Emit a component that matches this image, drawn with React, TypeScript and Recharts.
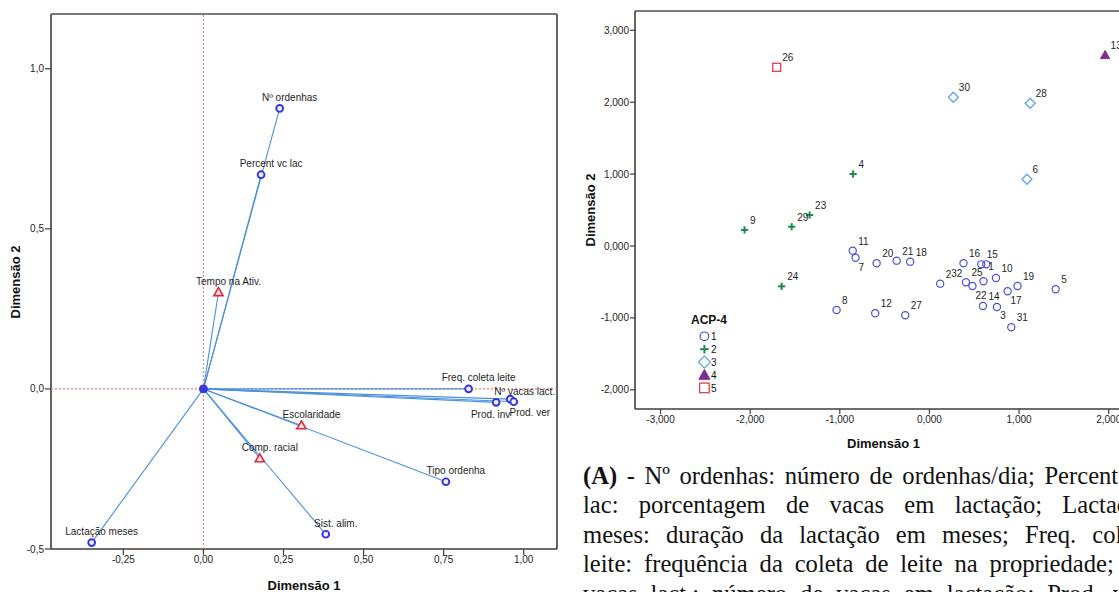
import React from 'react';
import { ScatterChart, Scatter, XAxis, YAxis, ReferenceLine, Legend } from 'recharts';

// ---------- Panel 1: component loadings ----------
const loadingNames = [
  'Nº ordenhas', 'Percent vc lac', 'Tempo na Ativ.', 'Freq. coleta leite', 'Nº vacas lact.',
  'Prod. ver', 'Prod. inv', 'Escolaridade', 'Comp. racial', 'Tipo ordenha', 'Sist. alim.', 'Lactação meses',
];
const loadingDim1 = [0.238, 0.18, 0.047, 0.828, 0.958, 0.969, 0.914, 0.306, 0.176, 0.757, 0.382, -0.349];
const loadingDim2 = [0.876, 0.669, 0.302, 0.0, -0.032, -0.04, -0.042, -0.114, -0.217, -0.29, -0.454, -0.48];
const loadingKind = ['num', 'num', 'ord', 'num', 'num', 'num', 'num', 'ord', 'ord', 'num', 'num', 'num'];
const leftXTicks = [-0.25, 0, 0.25, 0.5, 0.75, 1.0];
const leftYTicks = [-0.5, 0, 0.5, 1.0];
const leftXDomain: [number, number] = [-0.476, 1.104];
const leftYDomain: [number, number] = [-0.5, 1.171];

// label placement (centre dx, baseline dy) – default [10, -7.5]
const loadingLabelNudge: Record<string, [number, number]> = {
  'Nº vacas lact.': [14.5, -4.5],
  'Prod. ver': [16, 14.3],
  'Prod. inv': [-5.5, 15.3],
};

// ---------- Panel 2: object scores ----------
const caseIds = [1, 2, 3, 4, 5, 6, 7, 8, 9, 10, 11, 12, 13, 14, 15, 16, 17, 18, 19, 20, 21, 22, 23, 24, 25, 26, 27, 28, 29, 30, 31, 32];
const caseDim1 = [0.634, 0.12, 0.753, -0.852, 1.408, 1.088, -0.824, -1.036, -2.063, 0.742, -0.856, -0.605, 1.96, 0.597, 0.578, 0.38,
  0.872, -0.215, 0.983, -0.589, -0.366, 0.48, -1.337, -1.649, 0.407, -1.704, -0.27, 1.124, -1.537, 0.267, 0.913, 0.603];
const caseDim2 = [-0.255, -0.524, -0.848, 1.001, -0.602, 0.928, -0.163, -0.89, 0.223, -0.445, -0.065, -0.936, 2.656, -0.834, -0.255, -0.241,
  -0.63, -0.218, -0.556, -0.241, -0.204, -0.556, 0.431, -0.561, -0.505, 2.485, -0.964, 1.985, 0.268, 2.068, -1.131, -0.491];
const caseCluster = [1, 1, 1, 2, 1, 3, 1, 1, 2, 1, 1, 1, 4, 1, 1, 1, 1, 1, 1, 1, 1, 1, 2, 2, 1, 5, 1, 3, 2, 3, 1, 1];
const clusterNames = ['1', '2', '3', '4', '5'];
const rightXTicks = [-3, -2, -1, 0, 1, 2];
const rightYTicks = [-2, -1, 0, 1, 2, 3];
const rightXDomain: [number, number] = [-3.285, 2.26];
const rightYDomain: [number, number] = [-2.267, 3.268];

// label placement (start dx, baseline dy) – default [5.5, -6]
const caseLabelNudge: Record<number, [number, number]> = {
  1: [1.9, 6],
  3: [3.2, 12.3],
  7: [2.9, 13.2],
  17: [2.8, 13],
  22: [3.1, 13.3],
  32: [-32.2, -4.4],
};

const captionLead = '(A)';
const captionLines = [
  ' - Nº ordenhas: número de ordenhas/dia; Percent vc',
  'lac: porcentagem de vacas em lactação; Lactação',
  'meses: duração da lactação em meses; Freq. coleta',
  'leite: frequência da coleta de leite na propriedade; Nº',
  'vacas lact.: número de vacas em lactação; Prod. ver:',
];

const FONT = '"Liberation Sans", Arial, sans-serif';
const AXIS = '#3c3c3c';
const FRAME = '#7a7a7a';
const VEC = '#4a90dc';
const ZERO = '#f27a7a';

const loadingData = loadingNames.map((name, i) => ({ name, x: loadingDim1[i], y: loadingDim2[i], kind: loadingKind[i] }));
const caseData = caseIds.map((id, i) => ({ id, x: caseDim1[i], y: caseDim2[i], cluster: caseCluster[i] }));

const fmt = (d: number) => (v: number) => v.toFixed(d).replace('.', ',');

const LoadingShape = (props: any) => {
  const { cx, cy, payload } = props;
  if (cx == null || cy == null) return <g />;
  const [dx, dy] = loadingLabelNudge[payload.name] ?? [10, -7.5];
  return (
    <g>
      {payload.kind === 'ord' ? (
        <polygon
          points={`${cx},${cy - 4.6} ${cx - 4.6},${cy + 3.4} ${cx + 4.6},${cy + 3.4}`}
          fill="#fbe3e6"
          stroke="#e0283c"
          strokeWidth={1.6}
        />
      ) : (
        <circle cx={cx} cy={cy} r={3.4} fill="#eef0ff" stroke="#3434e4" strokeWidth={1.9} />
      )}
      <text x={cx + dx} y={cy + dy} textAnchor="middle" fontSize={10} fontFamily={FONT} fill="#1e1e1e">
        {payload.name}
      </text>
    </g>
  );
};

const ClusterIcon = ({ cluster, cx, cy, s = 1 }: { cluster: number; cx: number; cy: number; s?: number }) => {
  if (cluster === 1) return <circle cx={cx} cy={cy} r={3.6 * s} fill="none" stroke="#4c4ce0" strokeWidth={1.2} />;
  if (cluster === 2)
    return (
      <g stroke="#1d8a4d" strokeWidth={2}>
        <line x1={cx - 3.6 * s} y1={cy} x2={cx + 3.6 * s} y2={cy} />
        <line x1={cx} y1={cy - 3.6 * s} x2={cx} y2={cy + 3.6 * s} />
      </g>
    );
  if (cluster === 3)
    return (
      <polygon
        points={`${cx},${cy - 5 * s} ${cx + 5 * s},${cy} ${cx},${cy + 5 * s} ${cx - 5 * s},${cy}`}
        fill="none"
        stroke="#5aa6ea"
        strokeWidth={1.3}
      />
    );
  if (cluster === 4)
    return (
      <polygon
        points={`${cx},${cy - 4.6 * s} ${cx + 4.6 * s},${cy + 3.6 * s} ${cx - 4.6 * s},${cy + 3.6 * s}`}
        fill="#7e2d8f"
        stroke="#7e2d8f"
        strokeWidth={1}
      />
    );
  return <rect x={cx - 4 * s} y={cy - 4 * s} width={8 * s} height={8 * s} fill="none" stroke="#e0404f" strokeWidth={1.3} />;
};

const CaseShape = (props: any) => {
  const { cx, cy, payload } = props;
  if (cx == null || cy == null) return <g />;
  const [dx, dy] = caseLabelNudge[payload.id] ?? [5.5, -6];
  return (
    <g>
      <ClusterIcon cluster={payload.cluster} cx={cx} cy={cy} />
      <text x={cx + dx} y={cy + dy} fontSize={10} fontFamily={FONT} fill="#1e1e1e">
        {payload.id}
      </text>
    </g>
  );
};

const ClusterLegend = () => (
  <svg width={56} height={92} style={{ overflow: 'visible' }}>
    <text x={6} y={18.5} fontSize={12} fontWeight="bold" fontFamily={FONT} fill="#111">
      ACP-4
    </text>
    {clusterNames.map((n, i) => (
      <g key={n}>
        <ClusterIcon cluster={i + 1} cx={19.4} cy={31.3 + 12.9 * i} s={1.2} />
        <text x={26} y={35 + 12.9 * i} fontSize={10} fontFamily={FONT} fill="#111">
          {n}
        </text>
      </g>
    ))}
  </svg>
);

const titleStyle = (cx: number, cy: number, rotate = false): React.CSSProperties => ({
  position: 'absolute',
  left: cx,
  top: cy,
  transform: `translate(-50%, -50%)${rotate ? ' rotate(-90deg)' : ''}`,
  whiteSpace: 'nowrap',
  fontFamily: FONT,
  fontWeight: 'bold',
  fontSize: 13,
  lineHeight: 1,
  color: '#111',
});

const tickStyle = { fontSize: 10, fill: '#222', fontFamily: FONT };
const noShape = () => <g />;

export default function App() {
  return (
    <div style={{ position: 'fixed', left: 0, top: 0, width: 1119, height: 592, overflow: 'hidden', background: '#fff' }}>
      {/* Left panel */}
      <div style={{ position: 'absolute', left: 0, top: 0 }}>
        <ScatterChart width={570} height={592} margin={{ top: 14, right: 13, left: 0, bottom: 3 }}>
          <XAxis
            type="number"
            dataKey="x"
            domain={leftXDomain}
            ticks={leftXTicks}
            allowDataOverflow
            tickFormatter={fmt(2)}
            height={40}
            axisLine={{ stroke: AXIS, strokeWidth: 1.6 }}
            tickLine={{ stroke: AXIS, strokeWidth: 1.2 }}
            tickSize={6}
            tickMargin={1}
            tick={tickStyle}
          />
          <YAxis
            type="number"
            dataKey="y"
            domain={leftYDomain}
            ticks={leftYTicks}
            allowDataOverflow
            tickFormatter={fmt(1)}
            width={51}
            axisLine={{ stroke: AXIS, strokeWidth: 1.6 }}
            tickLine={{ stroke: AXIS, strokeWidth: 1.2 }}
            tickSize={6}
            tickMargin={1}
            tick={tickStyle}
          />
          <ReferenceLine y={leftYDomain[1]} stroke={FRAME} strokeWidth={2} />
          <ReferenceLine x={leftXDomain[1]} stroke={AXIS} strokeWidth={1.6} />
          {/* zero lines */}
          <Scatter
            data={[{ x: 0, y: leftYDomain[0] }, { x: 0, y: leftYDomain[1] }]}
            line={{ stroke: ZERO, strokeWidth: 1.1, strokeDasharray: '2 2' }}
            shape={noShape}
            isAnimationActive={false}
          />
          <Scatter
            data={[{ x: leftXDomain[0], y: 0 }, { x: leftXDomain[1], y: 0 }]}
            line={{ stroke: ZERO, strokeWidth: 1.1, strokeDasharray: '2 2' }}
            shape={noShape}
            isAnimationActive={false}
          />
          {loadingData.map((d) => (
            <Scatter
              key={`v-${d.name}`}
              data={[{ x: 0, y: 0 }, { x: d.x, y: d.y }]}
              line={{ stroke: VEC, strokeWidth: 1.1 }}
              shape={noShape}
              isAnimationActive={false}
            />
          ))}
          <Scatter
            data={[{ x: 0, y: 0 }]}
            shape={(p: any) => <circle cx={p.cx} cy={p.cy} r={4} fill="#3a3ad6" stroke="#3434e4" strokeWidth={1} />}
            isAnimationActive={false}
          />
          <Scatter data={loadingData} shape={LoadingShape} isAnimationActive={false} />
        </ScatterChart>
      </div>

      {/* Right panel */}
      <div style={{ position: 'absolute', left: 570, top: 0 }}>
        <ScatterChart width={572} height={460} margin={{ top: 11, right: 10, left: 0, bottom: 11 }}>
          <XAxis
            type="number"
            dataKey="x"
            domain={rightXDomain}
            ticks={rightXTicks}
            allowDataOverflow
            tickFormatter={fmt(3)}
            height={40}
            axisLine={{ stroke: AXIS, strokeWidth: 1.6 }}
            tickLine={{ stroke: AXIS, strokeWidth: 1.2 }}
            tickSize={5}
            tickMargin={2}
            tick={tickStyle}
          />
          <YAxis
            type="number"
            dataKey="y"
            domain={rightYDomain}
            ticks={rightYTicks}
            allowDataOverflow
            tickFormatter={fmt(3)}
            width={65}
            axisLine={{ stroke: AXIS, strokeWidth: 1.6 }}
            tickLine={{ stroke: AXIS, strokeWidth: 1.2 }}
            tickSize={5}
            tickMargin={1}
            tick={tickStyle}
          />
          <ReferenceLine y={rightYDomain[1]} stroke={FRAME} strokeWidth={2} />
          {clusterNames.map((n, k) => (
            <Scatter
              key={`c-${n}`}
              name={n}
              data={caseData.filter((d) => d.cluster === k + 1)}
              shape={CaseShape}
              isAnimationActive={false}
            />
          ))}
          <Legend
            layout="vertical"
            align="center"
            verticalAlign="middle"
            wrapperStyle={{ position: 'absolute', left: 115, top: 305, width: 56, height: 92 }}
            content={() => <ClusterLegend />}
          />
        </ScatterChart>
      </div>

      {/* Axis titles */}
      <div style={titleStyle(15, 281.5, true)}>Dimensão 2</div>
      <div style={titleStyle(304, 585)}>Dimensão 1</div>
      <div style={titleStyle(590, 210, true)}>Dimensão 2</div>
      <div style={titleStyle(883.5, 443)}>Dimensão 1</div>

      {/* Caption */}
      <div
        style={{
          position: 'absolute',
          left: 583,
          top: 460.5,
          width: 568,
          fontFamily: '"Liberation Serif", "Times New Roman", serif',
          fontSize: 24.6,
          lineHeight: '29.6px',
          color: '#111',
        }}
      >
        {captionLines.map((line, i) => (
          <div key={i} style={{ textAlign: 'justify', textAlignLast: 'justify' }}>
            {i === 0 ? <b>{captionLead}</b> : null}
            {line}
          </div>
        ))}
      </div>
    </div>
  );
}
